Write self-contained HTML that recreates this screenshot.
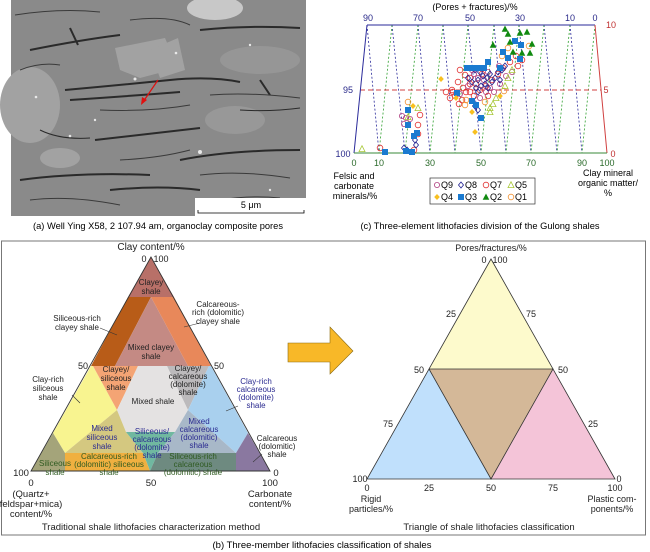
<!DOCTYPE html>
<html><head><meta charset="utf-8"><style>
html,body{margin:0;padding:0;background:#fff}
svg{display:block;font-family:"Liberation Sans",sans-serif}
</style></head><body>
<svg width="650" height="552" viewBox="0 0 650 552" xmlns="http://www.w3.org/2000/svg">
<!-- SEM image -->
<rect x="11" y="0" width="295" height="216" fill="#8a8a8a"/>
<g fill="#a2a2a2">
<ellipse cx="30" cy="105" rx="30" ry="38"/>
<polygon points="115,48 165,38 178,68 140,78 120,70"/>
<polygon points="150,50 178,38 185,70 160,78"/>
<ellipse cx="215" cy="8" rx="28" ry="12" fill="#c8c8c8"/>
<ellipse cx="235" cy="120" rx="30" ry="14" fill="#989898"/>
<ellipse cx="60" cy="158" rx="20" ry="10"/>
<ellipse cx="260" cy="60" rx="40" ry="14" fill="#969696"/>
</g>
<g stroke="#2a2a2a" stroke-width="2" fill="none">
<path d="M65 90 Q120 85 170 80 Q210 76 240 82"/>
<path d="M70 100 Q130 96 180 92"/>
<path d="M95 140 Q140 135 200 128"/>
<path d="M30 50 Q80 40 120 35"/>
<path d="M200 30 Q250 25 300 28"/>
<path d="M20 180 Q80 172 150 175"/>
<path d="M180 160 Q230 150 300 150"/>
<path d="M70 28 L78 45"/>
<path d="M260 80 L270 95"/>
<path d="M110 190 Q160 185 200 190"/>
<path d="M240 110 Q270 112 300 108" stroke-width="1"/>
<path d="M40 130 Q60 140 90 138" stroke-width="1"/>
</g>
<g stroke="#3a3a3a" stroke-width="1" fill="none">
<path d="M15 15 Q60 8 100 12"/><path d="M100 110 Q150 112 190 105"/><path d="M210 95 Q250 92 300 98"/>
<path d="M30 200 Q70 195 120 205"/><path d="M200 175 Q240 170 290 178"/><path d="M120 160 Q160 158 190 150"/>
<path d="M20 70 Q40 62 60 65"/><path d="M220 200 Q250 195 280 198"/><path d="M130 20 Q170 15 190 25"/>
</g>
<g fill="#e8e8e8"><circle cx="135" cy="79" r="1.5"/><circle cx="200" cy="152" r="2"/><circle cx="36" cy="97" r="1.3"/><circle cx="70" cy="136" r="1.3"/><circle cx="176" cy="53" r="1.3"/><circle cx="95" cy="120" r="1.2"/><circle cx="270" cy="190" r="1.2"/><circle cx="250" cy="45" r="1.2"/></g>
<line x1="158" y1="80" x2="143" y2="102" stroke="#e01010" stroke-width="1.2"/>
<polygon points="141,105 142,97 147,100" fill="#e01010"/>
<rect x="195" y="198" width="111" height="18" fill="#fff"/>
<text x="251" y="208" font-size="9" text-anchor="middle">5 μm</text>
<path d="M198 210 V213 H304 V210" stroke="#000" stroke-width="0.8" fill="none"/>
<text x="158" y="229" font-size="9.3" text-anchor="middle">(a) Well Ying X58, 2 107.94 am, organoclay composite pores</text>

<!-- Panel c -->
<g stroke-width="0.8" stroke-dasharray="2,2" fill="none">
<g stroke="#2a2a9a">
<line x1="367" y1="25" x2="379" y2="153"/><line x1="392" y1="25" x2="405" y2="153"/><line x1="418" y1="25" x2="430" y2="153"/><line x1="443" y1="25" x2="455" y2="153"/><line x1="468" y1="25" x2="481" y2="153"/><line x1="494" y1="25" x2="506" y2="153"/><line x1="519" y1="25" x2="531" y2="153"/><line x1="544" y1="25" x2="557" y2="153"/><line x1="570" y1="25" x2="582" y2="153"/>
</g>
<g stroke="#30a030">
<line x1="392" y1="25" x2="379" y2="153"/><line x1="418" y1="25" x2="405" y2="153"/><line x1="443" y1="25" x2="430" y2="153"/><line x1="468" y1="25" x2="455" y2="153"/><line x1="494" y1="25" x2="481" y2="153"/><line x1="519" y1="25" x2="506" y2="153"/><line x1="544" y1="25" x2="531" y2="153"/><line x1="570" y1="25" x2="557" y2="153"/><line x1="595" y1="25" x2="582" y2="153"/>
</g>
</g>
<line x1="360" y1="90" x2="601" y2="90" stroke="#d04040" stroke-width="0.9" stroke-dasharray="5,3"/>
<line x1="367" y1="25" x2="595" y2="25" stroke="#2a2a9a" stroke-width="1"/>
<line x1="367" y1="25" x2="354" y2="153" stroke="#2a2a9a" stroke-width="1"/>
<line x1="595" y1="25" x2="607" y2="153" stroke="#d04040" stroke-width="1"/>
<line x1="354" y1="153" x2="607" y2="153" stroke="#3a8a3a" stroke-width="1"/>
<defs>
<circle id="c9" r="2.6" fill="none" stroke="#b04080" stroke-width="0.8"/>
<circle id="c7" r="2.8" fill="none" stroke="#e03030" stroke-width="0.8"/>
<circle id="c1" r="2.8" fill="none" stroke="#f09030" stroke-width="0.8"/>
<path id="d8" d="M0 -3 L2.5 0 L0 3 L-2.5 0Z" fill="none" stroke="#202090" stroke-width="0.8"/>
<path id="d4" d="M0 -3 L2.8 0 L0 3 L-2.8 0Z" fill="#f8c020"/>
<rect id="s3" x="-3" y="-3" width="6" height="6" fill="#1a7ad0"/>
<path id="t2" d="M0 -3.5 L3.3 2.8 L-3.3 2.8Z" fill="#108a10"/>
<path id="t5" d="M0 -3.3 L3 2.6 L-3 2.6Z" fill="none" stroke="#a8c838" stroke-width="0.8"/>
</defs>
<g>
<use href="#c7" x="460" y="70"/><use href="#c7" x="465" y="75"/><use href="#c7" x="470" y="78"/><use href="#c7" x="458" y="82"/><use href="#c7" x="463" y="88"/><use href="#c7" x="470" y="92"/><use href="#c7" x="455" y="96"/><use href="#c7" x="462" y="100"/><use href="#c7" x="474" y="96"/><use href="#c7" x="480" y="90"/><use href="#c7" x="486" y="86"/><use href="#c7" x="492" y="80"/><use href="#c7" x="498" y="74"/><use href="#c7" x="503" y="68"/><use href="#c7" x="510" y="62"/><use href="#c7" x="516" y="56"/><use href="#c7" x="522" y="60"/><use href="#c7" x="518" y="66"/><use href="#c7" x="482" y="74"/><use href="#c7" x="476" y="84"/><use href="#c7" x="452" y="90"/><use href="#c7" x="450" y="98"/><use href="#c7" x="466" y="92"/><use href="#c7" x="488" y="96"/><use href="#c7" x="420" y="115"/><use href="#c7" x="418" y="125"/><use href="#c7" x="418" y="134"/><use href="#c7" x="414" y="150"/><use href="#c7" x="380" y="148"/><use href="#c7" x="453" y="92"/><use href="#c7" x="470" y="84"/><use href="#c7" x="446" y="92"/><use href="#c7" x="459" y="104"/>
<use href="#c9" x="472" y="70"/><use href="#c9" x="478" y="78"/><use href="#c9" x="484" y="80"/><use href="#c9" x="490" y="88"/><use href="#c9" x="468" y="86"/><use href="#c9" x="460" y="94"/><use href="#c9" x="480" y="98"/><use href="#c9" x="494" y="92"/><use href="#c9" x="500" y="84"/><use href="#c9" x="506" y="76"/><use href="#c9" x="512" y="72"/><use href="#c9" x="474" y="74"/><use href="#c9" x="486" y="92"/><use href="#c9" x="402" y="116"/><use href="#c9" x="406" y="118"/><use href="#c9" x="404" y="124"/><use href="#c9" x="410" y="119"/><use href="#c9" x="499" y="66"/><use href="#c9" x="488" y="72"/>
<use href="#d8" x="475" y="70"/><use href="#d8" x="480" y="72"/><use href="#d8" x="483" y="76"/><use href="#d8" x="487" y="78"/><use href="#d8" x="490" y="74"/><use href="#d8" x="478" y="80"/><use href="#d8" x="472" y="82"/><use href="#d8" x="485" y="84"/><use href="#d8" x="492" y="82"/><use href="#d8" x="495" y="78"/><use href="#d8" x="498" y="72"/><use href="#d8" x="502" y="70"/><use href="#d8" x="476" y="88"/><use href="#d8" x="481" y="86"/><use href="#d8" x="488" y="88"/><use href="#d8" x="468" y="78"/><use href="#d8" x="505" y="66"/><use href="#d8" x="500" y="80"/><use href="#d8" x="478" y="92"/><use href="#d8" x="475" y="106"/><use href="#d8" x="478" y="110"/><use href="#d8" x="415" y="140"/><use href="#d8" x="416" y="145"/><use href="#d8" x="407" y="150"/><use href="#d8" x="404" y="148"/>
<use href="#c1" x="529" y="46"/><use href="#c1" x="508" y="48"/><use href="#c1" x="502" y="56"/><use href="#c1" x="466" y="100"/><use href="#c1" x="485" y="102"/><use href="#c1" x="465" y="105"/><use href="#c1" x="408" y="102"/><use href="#c1" x="504" y="91"/>
<use href="#t5" x="362" y="149"/><use href="#t5" x="418" y="108"/><use href="#t5" x="408" y="117"/><use href="#t5" x="496" y="98"/><use href="#t5" x="493" y="104"/><use href="#t5" x="490" y="108"/><use href="#t5" x="490" y="112"/><use href="#t5" x="505" y="86"/><use href="#t5" x="508" y="78"/><use href="#t5" x="512" y="70"/>
<use href="#s3" x="503" y="52"/><use href="#s3" x="515" y="41"/><use href="#s3" x="520" y="59"/><use href="#s3" x="521" y="45"/><use href="#s3" x="508" y="58"/><use href="#s3" x="488" y="62"/><use href="#s3" x="500" y="68"/><use href="#s3" x="467" y="68"/><use href="#s3" x="473" y="68"/><use href="#s3" x="479" y="68"/><use href="#s3" x="484" y="68"/><use href="#s3" x="457" y="93"/><use href="#s3" x="472" y="101"/><use href="#s3" x="476" y="105"/><use href="#s3" x="481" y="118"/><use href="#s3" x="408" y="110"/><use href="#s3" x="408" y="125"/><use href="#s3" x="414" y="136"/><use href="#s3" x="417" y="133"/><use href="#s3" x="406" y="151"/><use href="#s3" x="412" y="152"/><use href="#s3" x="385" y="152"/>
<use href="#d4" x="441" y="79"/><use href="#d4" x="456" y="98"/><use href="#d4" x="472" y="112"/><use href="#d4" x="475" y="132"/><use href="#d4" x="500" y="96"/><use href="#d4" x="413" y="106"/>
<use href="#t2" x="505" y="29"/><use href="#t2" x="508" y="34"/><use href="#t2" x="520" y="33"/><use href="#t2" x="527" y="32"/><use href="#t2" x="510" y="42"/><use href="#t2" x="493" y="45"/><use href="#t2" x="532" y="44"/><use href="#t2" x="513" y="52"/><use href="#t2" x="522" y="53"/><use href="#t2" x="530" y="53"/>
</g>
<g font-size="9" text-anchor="middle">
<text x="475" y="10">(Pores + fractures)/%</text>
<g fill="#2a2a8a"><text x="368" y="21">90</text><text x="418" y="21">70</text><text x="470" y="21">50</text><text x="520" y="21">30</text><text x="570" y="21">10</text><text x="595" y="21">0</text>
<text x="348" y="93">95</text><text x="343" y="157">100</text></g>
<g fill="#c03030"><text x="611" y="28">10</text><text x="606" y="93">5</text><text x="613" y="157">0</text></g>
<g fill="#2a6a2a"><text x="354" y="166">0</text><text x="379" y="166">10</text><text x="430" y="166">30</text><text x="481" y="166">50</text><text x="531" y="166">70</text><text x="582" y="166">90</text><text x="607" y="166">100</text></g>
<text x="354" y="179">Felsic and</text><text x="354" y="189">carbonate</text><text x="355" y="199">minerals/%</text>
<text x="608" y="176">Clay mineral</text><text x="608" y="186">organic matter/</text><text x="608" y="196">%</text>
<text x="480" y="229" font-size="9.3">(c) Three-element lithofacies division of the Gulong shales</text>
</g>
<rect x="430" y="178" width="105" height="26" fill="#fff" stroke="#333" stroke-width="0.7"/>
<g font-size="9">
<use href="#c9" x="437" y="185"/><text x="441" y="188">Q9</text>
<use href="#d8" x="461" y="185"/><text x="465" y="188">Q8</text>
<use href="#c7" x="486" y="185"/><text x="490" y="188">Q7</text>
<use href="#t5" x="511" y="185"/><text x="515" y="188">Q5</text>
<use href="#d4" x="437" y="197"/><text x="441" y="200">Q4</text>
<use href="#s3" x="461" y="197"/><text x="465" y="200">Q3</text>
<use href="#t2" x="486" y="197"/><text x="490" y="200">Q2</text>
<use href="#c1" x="511" y="197"/><text x="515" y="200">Q1</text>
</g>

<rect x="1.5" y="241" width="644" height="294" fill="none" stroke="#777" stroke-width="1"/>

<g stroke="none">
<polygon points="151,257 128,297 174,297" fill="#b87068"/>
<polygon points="128,297 151,297 115,366 91,366" fill="#b85c18"/>
<polygon points="151,297 115,366 188,366" fill="#c48a84"/>
<polygon points="151,297 174,297 211,366 188,366" fill="#e8885a"/>
<polygon points="91,366 93,366 117,410 65,453 53,433" fill="#f8f490"/>
<polygon points="93,366 138,366 117,410" fill="#f4a474"/>
<polygon points="138,366 167,366 188,410 175,432 126,432 117,410" fill="#e4e2e2"/>
<polygon points="167,366 209,366 188,410" fill="#bcbabc"/>
<polygon points="209,366 211,366 248,433 236,453 188,410" fill="#a9d0ee"/>
<polygon points="117,410 126,432 143,453 65,453" fill="#d4c880"/>
<polygon points="188,410 236,453 158,453 175,432" fill="#a8b8c8"/>
<polygon points="126,432 175,432 158,453 150,471 143,453" fill="#70b8a0"/>
<polygon points="31,471 53,433 65,453 65,471" fill="#a4a47a"/>
<polygon points="65,453 143,453 150,471 65,471" fill="#f0b040"/>
<polygon points="158,453 236,453 236,471 150,471" fill="#6e8a80"/>
<polygon points="236,453 248,433 270,471 236,471" fill="#8a78a0"/>
</g>
<polygon points="151,257 31,471 270,471" fill="none" stroke="#333" stroke-width="0.9"/>
<g stroke="#333" stroke-width="0.6">
<line x1="100" y1="328" x2="117" y2="335"/><line x1="72" y1="395" x2="80" y2="403"/><line x1="238" y1="406" x2="226" y2="411"/><line x1="262" y1="454" x2="253" y2="462"/><line x1="200" y1="323" x2="184" y2="327"/>
</g>
<g font-size="8" text-anchor="middle" fill="#222">
<text x="151" y="250" font-size="10">Clay content/%</text>
<text x="144" y="262" font-size="9">0</text><text x="161" y="262" font-size="9">100</text>
<text x="151" y="285">Clayey</text><text x="151" y="294">shale</text>
<text x="218" y="307">Calcareous-</text><text x="218" y="315">rich (dolomitic)</text><text x="218" y="324">clayey shale</text>
<text x="77" y="321">Siliceous-rich</text><text x="77" y="330">clayey shale</text>
<text x="151" y="350">Mixed clayey</text><text x="151" y="359">shale</text>
<text x="83" y="369" font-size="9">50</text><text x="219" y="369" font-size="9">50</text>
<text x="116" y="372">Clayey/</text><text x="116" y="381">siliceous</text><text x="116" y="390">shale</text>
<text x="188" y="371">Clayey/</text><text x="188" y="379">calcareous</text><text x="188" y="387">(dolomite)</text><text x="188" y="395">shale</text>
<text x="48" y="382">Clay-rich</text><text x="48" y="391">siliceous</text><text x="48" y="400">shale</text>
<text x="153" y="404">Mixed shale</text>
<g fill="#2a2a90"><text x="256" y="384">Clay-rich</text><text x="256" y="392">calcareous</text><text x="256" y="400">(dolomite)</text><text x="256" y="408">shale</text>
<text x="102" y="431">Mixed</text><text x="102" y="440">siliceous</text><text x="102" y="449">shale</text>
<text x="152" y="434">Siliceous/</text><text x="152" y="442">calcareous</text><text x="152" y="450">(dolomite)</text><text x="152" y="458">shale</text>
<text x="199" y="424">Mixed</text><text x="199" y="432">calcareous</text><text x="199" y="440">(dolomitic)</text><text x="199" y="448">shale</text></g>
<text x="277" y="441">Calcareous</text><text x="277" y="449">(dolomitic)</text><text x="277" y="457">shale</text>
<g fill="#2e5a20"><text x="55" y="466">Siliceous</text><text x="55" y="475">shale</text>
<text x="109" y="459">Calcareous-rich</text><text x="109" y="467">(dolomitic) siliceous</text><text x="109" y="475">shale</text>
<text x="193" y="459">Siliceous-rich</text><text x="193" y="467">calcareous</text><text x="193" y="475">(dolomitic) shale</text></g>
<g font-size="9.5"><text x="21" y="476">100</text><text x="276" y="476">0</text>
<text x="31" y="486">0</text><text x="151" y="486">50</text><text x="270" y="486">100</text>
<text x="31" y="497">(Quartz+</text><text x="31" y="507">feldspar+mica)</text><text x="31" y="517">content/%</text>
<text x="270" y="497">Carbonate</text><text x="270" y="507">content/%</text>
<text x="151" y="530">Traditional shale lithofacies characterization method</text></g>
</g>

<polygon points="288,343 330,343 330,327 353,351 330,374 330,362 288,362" fill="#f8b828" stroke="#8a6a10" stroke-width="0.6"/>

<polygon points="491,259 429,369 553,369" fill="#fdfacc"/>
<polygon points="429,369 553,369 491,479" fill="#d4b898"/>
<polygon points="429,369 491,479 367,479" fill="#c0e0fc"/>
<polygon points="553,369 615,479 491,479" fill="#f4c4d8"/>
<g fill="none" stroke="#333" stroke-width="0.8">
<polygon points="491,259 367,479 615,479"/>
<polyline points="429,369 553,369 491,479 429,369"/>
</g>
<g font-size="9" text-anchor="middle" fill="#222">
<text x="491" y="251">Pores/fractures/%</text>
<text x="484" y="263">0</text><text x="500" y="263">100</text>
<text x="451" y="317">25</text><text x="531" y="317">75</text>
<text x="419" y="373">50</text><text x="563" y="373">50</text>
<text x="388" y="427">75</text><text x="593" y="427">25</text>
<text x="360" y="482">100</text><text x="619" y="482">0</text>
<text x="367" y="491">0</text><text x="429" y="491">25</text><text x="491" y="491">50</text><text x="553" y="491">75</text><text x="615" y="491">100</text>
<text x="371" y="502">Rigid</text><text x="371" y="512">particles/%</text>
<text x="612" y="502">Plastic com-</text><text x="612" y="512">ponents/%</text>
<text x="489" y="530" font-size="9.5">Triangle of shale lithofacies classification</text>
</g>
<text x="322" y="548" font-size="9.5" text-anchor="middle">(b) Three-member lithofacies classification of shales</text>
</svg>
</body></html>
